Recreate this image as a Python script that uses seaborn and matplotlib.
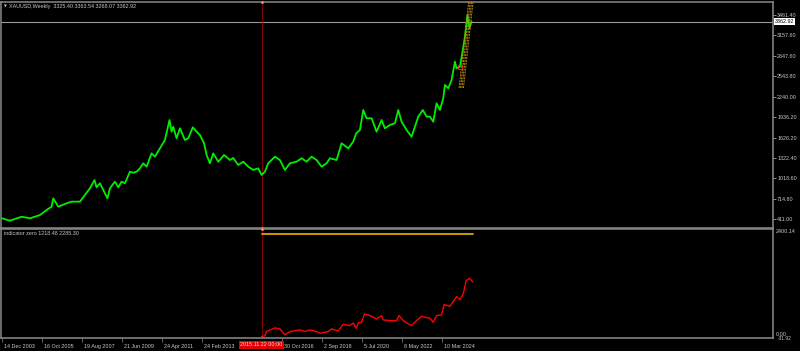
import numpy as np
import pandas as pd
import matplotlib
matplotlib.use("Agg")
import matplotlib.pyplot as plt
import matplotlib.dates as mdates
import matplotlib.transforms as mtransforms
import seaborn as sns

# ---------------- data ----------------
start_date = "2003-12-14"          # bar 0 of the weekly chart
symbol_title = "XAUUSD,Weekly"
ohlc_last = [3325.40, 3363.54, 3268.07, 3362.92]

price_week = [0, 19, 47, 67, 91, 107, 119, 123, 135, 155, 167, 187, 199, 211, 222, 227,
              235, 243, 253, 259, 271, 279, 287, 295, 307, 315, 323, 331, 339, 347, 359,
              367, 379, 391, 402, 407, 411, 419, 427, 439, 447, 458, 467, 475, 485, 491,
              499, 507, 519, 533, 547, 555, 567, 579, 591, 603, 615, 623, 631, 639, 655,
              667, 679, 691, 707, 719, 731, 743, 755, 767, 779, 787, 803, 815, 831, 843,
              850, 859, 867, 875, 887, 899, 911, 919, 931, 943, 951, 959, 971, 983, 991,
              999, 1010, 1019, 1027, 1035, 1043, 1051, 1059, 1063, 1071, 1079, 1087, 1091,
              1099, 1106, 1111, 1114, 1117, 1122, 1127]
price_close = [421, 386, 445, 421, 470, 545, 595, 720, 595, 645, 670, 670, 770, 870, 994, 885,
               945, 845, 720, 870, 969, 885, 969, 945, 1118, 1103, 1118, 1169, 1244, 1193, 1393,
               1343, 1468, 1592, 1891, 1716, 1791, 1618, 1767, 1592, 1618, 1782, 1716, 1667, 1543, 1368,
               1244, 1393, 1268, 1368, 1293, 1323, 1218, 1268, 1193, 1144, 1169, 1069, 1118, 1244, 1343,
               1293, 1144, 1244, 1268, 1319, 1268, 1343, 1293, 1193, 1244, 1319, 1293, 1543, 1468, 1567,
               1692, 1742, 2041, 1917, 1917, 1716, 1891, 1767, 1817, 1842, 2041, 1866, 1742, 1642, 1791,
               1941, 2041, 1941, 1941, 1866, 2141, 2041, 2216, 2415, 2365, 2490, 2763, 2664,
               2688, 2938, 3137, 3286, 3461, 3263, 3362.92]

ind_week = [623, 631, 635, 655, 667, 679, 691, 715, 727, 739, 755, 763, 783, 791, 807, 819,
            835, 843, 850, 855, 863, 870, 883, 899, 911, 915, 931, 947, 953, 963, 971, 983,
            995, 1007, 1027, 1035, 1043, 1055, 1061, 1075, 1091, 1099, 1107, 1114, 1122, 1130]
ind_value = [0, 20, 112, 194, 172, 38, 112, 149, 112, 149, 112, 74, 112, 172, 127, 274,
             245, 305, 185, 305, 319, 506, 468, 394, 468, 372, 357, 357, 468, 357, 305, 245,
             357, 453, 408, 319, 468, 483, 714, 676, 892, 825, 952, 1249, 1300, 1218.48]

zero_week = [623, 1130]
zero_value = [2285.30, 2285.30]

channel_start_week = [1097, 1100.5, 1104, 1107.5]
channel_end_week = [1120, 1123.5, 1127, 1130.5]
channel_price = [2370, 3660]

marker_week = [1098]
marker_price = [2691]

price_ticks = [3461.40, 3157.60, 2847.60, 2543.80, 2240.00, 1936.20, 1626.20,
               1322.40, 1018.60, 714.80, 411.00]
current_price = 3362.92
ind_max, ind_min = 2400.14, -31.92
ind_name = "indicator zero"

date_tick_labels = ["14 Dec 2003", "16 Oct 2005", "19 Aug 2007", "21 Jun 2009",
                    "24 Apr 2011", "24 Feb 2013", "30 Oct 2016", "2 Sep 2018",
                    "5 Jul 2020", "8 May 2022", "10 Mar 2024"]
cross_date = "2015-11-22"
cross_label = "2015.11.22 00:00"

# ---------------- styling ----------------
sns.set_theme(style="dark")
plt.rcParams["font.family"] = ["Liberation Sans", "DejaVu Sans"]
BG = "black"
FG = "#c8c8c8"
BORDER = "#8a8a8a"
FS = 3.9

W, H = 800, 351
fig = plt.figure(figsize=(W / 100, H / 100), dpi=100, facecolor=BG)

def fig_rect(x0, y0, x1, y1):
    return [x0 / W, 1 - y1 / H, (x1 - x0) / W, (y1 - y0) / H]

ax = fig.add_axes(fig_rect(1, 2, 773, 228))
axb = fig.add_axes(fig_rect(1, 229, 773, 338), sharex=ax)

t0 = pd.Timestamp(start_date)
def to_dates(weeks):
    return t0 + pd.to_timedelta(np.asarray(weeks, dtype=float) * 7, unit="D")

days_per_px = 16.8
xlim = (mdates.date2num(t0 - pd.Timedelta(days=1 * days_per_px)),
        mdates.date2num(t0 + pd.Timedelta(days=771 * days_per_px)))

for a in (ax, axb):
    a.set_facecolor(BG)
    a.grid(False)
    for s in a.spines.values():
        s.set_color(BORDER)
        s.set_linewidth(1.1)
        s.set_visible(True)

# ---------------- main price panel ----------------
df_price = pd.DataFrame({"date": to_dates(price_week), "close": price_close})
sns.lineplot(data=df_price, x="date", y="close", ax=ax, color="#00ee00",
             lw=1.3, estimator=None, sort=False)

for ws, we in zip(channel_start_week, channel_end_week):
    ax.plot(to_dates([ws, we]), channel_price, color="#b8860b", lw=0.7,
            ls=(0, (2, 1)), zorder=3)
ax.plot(to_dates(marker_week), marker_price, marker="s", ms=3.5, mfc="none",
        mec="#ff2020", mew=0.6, ls="none", zorder=4)

ax.axhline(current_price, color="#9a9a9a", lw=0.8, zorder=1)
cd = pd.Timestamp(cross_date)
ax.axvline(cd, color="#a00000", lw=0.6, zorder=1)
axb.axvline(cd, color="#a00000", lw=0.6, zorder=1)

ax.set_ylim(276.4, 3655.8)
ax.set_xlim(*xlim)
ax.yaxis.tick_right()
ax.set_yticks(price_ticks, labels=[f"{v:.2f}" for v in price_ticks])
ax.tick_params(axis="y", length=2, width=0.5, pad=1, labelsize=FS, colors=FG,
               labelcolor=FG, right=True, left=False)
ax.tick_params(axis="x", bottom=False, labelbottom=False)
ax.set_xlabel("")
ax.set_ylabel("")

blend = mtransforms.blended_transform_factory(ax.transAxes, ax.transData)
ax.text(1.0 + 1.5 / 772, current_price, f"{current_price:.2f}", transform=blend,
        ha="left", va="center", fontsize=FS, color="black",
        bbox=dict(facecolor="white", edgecolor="none", pad=0.6), zorder=6, clip_on=False)

# crosshair markers
for a, yy in ((ax, 1.0), (ax, 0.0), (axb, 1.0)):
    bl = mtransforms.blended_transform_factory(a.transData, a.transAxes)
    a.plot([cd], [yy], marker="s", ms=2.0, mfc="#ffd0d0", mec="#ff4040", mew=0.4,
           transform=bl, clip_on=False, zorder=7)

fig.text(3.5 / W, 1 - 6.5 / H, "\u25bc", fontsize=2.6, color=FG, va="center", ha="left",
         family=["DejaVu Sans"])
fig.text(9 / W, 1 - 6.5 / H,
         f"{symbol_title}  " + " ".join(f"{v:.2f}" for v in ohlc_last),
         fontsize=FS, color=FG, va="center", ha="left")

# ---------------- indicator panel ----------------
df_ind = pd.DataFrame({"date": to_dates(ind_week), "value": ind_value})
sns.lineplot(data=df_ind, x="date", y="value", ax=axb, color="#ff0000",
             lw=1.0, estimator=None, sort=False)
df_zero = pd.DataFrame({"date": to_dates(zero_week), "value": zero_value})
sns.lineplot(data=df_zero, x="date", y="value", ax=axb, color="#d9a800",
             lw=1.3, estimator=None, sort=False)
axb.axhline(0, color="#1c1cb0", lw=0.6, ls=(0, (1, 1.5)), zorder=1)

axb.set_ylim(ind_min, ind_max)
axb.set_xlim(*xlim)
axb.yaxis.tick_right()
axb.set_yticks([])
axb.set_xlabel("")
axb.set_ylabel("")
bl2 = mtransforms.blended_transform_factory(axb.transAxes, axb.transData)
axb.text(1.0 + 3 / 772, ind_max, f"{ind_max:.2f}", transform=bl2, ha="left", va="top",
         fontsize=FS, color=FG, clip_on=False)
axb.text(1.0 + 3 / 772, 0, "0.00", transform=bl2, ha="left", va="bottom",
         fontsize=FS, color=FG, clip_on=False)
axb.text(1.0 + 5 / 772, ind_min, f"{ind_min:.2f}", transform=bl2, ha="left", va="center",
         fontsize=FS * 0.9, color=FG, clip_on=False)
axb.text(3 / 772, 1 - 4.5 / 109, f"{ind_name} {ind_value[-1]:.2f} {zero_value[-1]:.2f}",
         transform=axb.transAxes, ha="left", va="center", fontsize=FS, color=FG)

tick_dates = pd.to_datetime(date_tick_labels, format="%d %b %Y")
axb.set_xticks(tick_dates, labels=date_tick_labels)
axb.tick_params(axis="x", length=3, width=0.5, color=BORDER, pad=1.5,
                labelsize=FS, labelcolor=FG, bottom=True)
for lbl in axb.get_xticklabels():
    lbl.set_horizontalalignment("left")
    lbl.set_transform(lbl.get_transform() + mtransforms.ScaledTranslation(1.5 / 100, 0, fig.dpi_scale_trans))

blx = mtransforms.blended_transform_factory(axb.transData, axb.transAxes)
axb.text(cd, -6.8 / 109, cross_label, transform=blx, ha="center", va="center",
         fontsize=FS, color="#ffd8d8",
         bbox=dict(facecolor="#e00000", edgecolor="none", pad=0.9), clip_on=False, zorder=10)

fig.savefig("out.png", dpi=100, facecolor=BG)
